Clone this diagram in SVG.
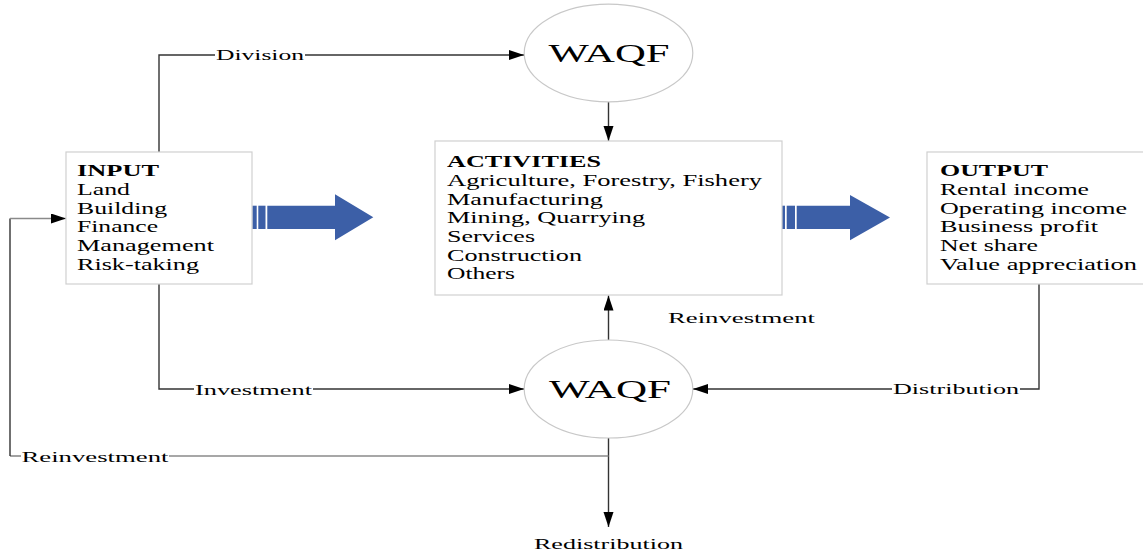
<svg xmlns="http://www.w3.org/2000/svg" width="1143" height="555" viewBox="0 0 1143 555">
  <style>
    .box { fill: #ffffff; stroke: #d0d0d0; stroke-width: 1.2; }
    .oval { fill: #ffffff; stroke: #c8c8c8; stroke-width: 1.2; }
    .txt { font-family: "Liberation Serif", "Times New Roman", serif; font-size: 16.5px; fill: #000000; }
    .hd { font-weight: bold; }
    .lbl { font-family: "Liberation Serif", "Times New Roman", serif; font-size: 15.5px; fill: #000000; }
    .big { font-family: "Liberation Serif", "Times New Roman", serif; font-size: 26px; fill: #000000; }
    .wire { fill: none; stroke: #333333; stroke-width: 1.4; }
    .wire-lt { fill: none; stroke: #8a8a8a; stroke-width: 1.6; }
    .flow { fill: #3c5fa7; }
  </style>
  <defs>
    <marker id="ah" markerUnits="userSpaceOnUse" markerWidth="16" markerHeight="11" refX="15" refY="5" orient="auto">
      <path d="M0,0 L15,5 L0,10 z" fill="#000000"/>
    </marker>
  </defs>

  <rect width="1143" height="555" fill="#ffffff"/>

  <!-- connectors -->
  <g id="connectors">
    <!-- Division: INPUT -> upper WAQF -->
    <path class="wire" d="M159,152 V55 H215"/>
    <path class="wire" d="M305,55 H524" marker-end="url(#ah)"/>
    <!-- upper WAQF -> ACTIVITIES -->
    <path class="wire" d="M608.5,102 V141" marker-end="url(#ah)"/>
    <!-- Investment: INPUT -> lower WAQF -->
    <path class="wire" d="M159,284 V389 H194"/>
    <path class="wire" d="M313,389 H524" marker-end="url(#ah)"/>
    <!-- Distribution: OUTPUT -> lower WAQF -->
    <path class="wire" d="M1039,284 V389 H1020"/>
    <path class="wire" d="M892,389 H693" marker-end="url(#ah)"/>
    <!-- Reinvestment: lower WAQF -> ACTIVITIES -->
    <path class="wire" d="M608.5,340 V295.5" marker-end="url(#ah)"/>
    <!-- Redistribution -->
    <path class="wire" d="M608.5,438 V527" marker-end="url(#ah)"/>
    <!-- Reinvestment loop back to INPUT -->
    <path class="wire-lt" d="M608.5,456 H169"/>
    <path class="wire-lt" d="M21,456 H10"/>
    <path class="wire" d="M10,456 V218.5"/>
    <path class="wire-lt" d="M10,218.5 H66" marker-end="url(#ah)"/>
  </g>

  <!-- connector labels -->
  <g id="labels">
    <text class="lbl" x="216" y="59.5" textLength="88" lengthAdjust="spacingAndGlyphs">Division</text>
    <text class="lbl" x="195" y="394.5" textLength="117" lengthAdjust="spacingAndGlyphs">Investment</text>
    <text class="lbl" x="893" y="393.5" textLength="126" lengthAdjust="spacingAndGlyphs">Distribution</text>
    <text class="lbl" x="21.5" y="461.5" textLength="147" lengthAdjust="spacingAndGlyphs">Reinvestment</text>
    <text class="lbl" x="668" y="322.5" textLength="147" lengthAdjust="spacingAndGlyphs">Reinvestment</text>
    <text class="lbl" x="534" y="549" textLength="149" lengthAdjust="spacingAndGlyphs">Redistribution</text>
  </g>

  <!-- flow arrows -->
  <g id="flow-input-activities">
    <rect class="flow" x="252.3" y="205.7" width="4.4" height="23.3"/>
    <rect class="flow" x="258.3" y="205.7" width="7.2" height="23.3"/>
    <polygon class="flow" points="267.3,205.7 335,205.7 335,194.3 373.3,217.3 335,240.3 335,229 267.3,229"/>
  </g>
  <g id="flow-activities-output">
    <rect class="flow" x="780" y="205.7" width="5" height="23.3"/>
    <rect class="flow" x="786.7" y="205.7" width="8.3" height="23.3"/>
    <polygon class="flow" points="796.7,205.7 850,205.7 850,195 890,217.5 850,240.3 850,229 796.7,229"/>
  </g>

  <!-- INPUT -->
  <g id="input">
    <rect class="box" x="66" y="152" width="186" height="132"/>
    <text class="txt hd" x="77" y="176" textLength="82" lengthAdjust="spacingAndGlyphs">INPUT</text>
    <text class="txt" x="77" y="195" textLength="53" lengthAdjust="spacingAndGlyphs">Land</text>
    <text class="txt" x="77" y="213.7" textLength="90" lengthAdjust="spacingAndGlyphs">Building</text>
    <text class="txt" x="77" y="232.4" textLength="81" lengthAdjust="spacingAndGlyphs">Finance</text>
    <text class="txt" x="77" y="251" textLength="137" lengthAdjust="spacingAndGlyphs">Management</text>
    <text class="txt" x="77" y="269.7" textLength="122" lengthAdjust="spacingAndGlyphs">Risk-taking</text>
  </g>

  <!-- ACTIVITIES -->
  <g id="activities">
    <rect class="box" x="435" y="141" width="347" height="154"/>
    <text class="txt hd" x="447" y="167" textLength="154" lengthAdjust="spacingAndGlyphs">ACTIVITIES</text>
    <text class="txt" x="447" y="186" textLength="315" lengthAdjust="spacingAndGlyphs">Agriculture, Forestry, Fishery</text>
    <text class="txt" x="447" y="204.5" textLength="156" lengthAdjust="spacingAndGlyphs">Manufacturing</text>
    <text class="txt" x="447" y="223" textLength="198" lengthAdjust="spacingAndGlyphs">Mining, Quarrying</text>
    <text class="txt" x="447" y="242" textLength="88" lengthAdjust="spacingAndGlyphs">Services</text>
    <text class="txt" x="447" y="260.7" textLength="135" lengthAdjust="spacingAndGlyphs">Construction</text>
    <text class="txt" x="447" y="279.3" textLength="68" lengthAdjust="spacingAndGlyphs">Others</text>
  </g>

  <!-- OUTPUT -->
  <g id="output">
    <rect class="box" x="927" y="152" width="218" height="132"/>
    <text class="txt hd" x="940" y="176" textLength="108" lengthAdjust="spacingAndGlyphs">OUTPUT</text>
    <text class="txt" x="940" y="195" textLength="149" lengthAdjust="spacingAndGlyphs">Rental income</text>
    <text class="txt" x="940" y="213.7" textLength="187" lengthAdjust="spacingAndGlyphs">Operating income</text>
    <text class="txt" x="940" y="232.4" textLength="158" lengthAdjust="spacingAndGlyphs">Business profit</text>
    <text class="txt" x="940" y="251" textLength="98" lengthAdjust="spacingAndGlyphs">Net share</text>
    <text class="txt" x="940" y="269.7" textLength="197" lengthAdjust="spacingAndGlyphs">Value appreciation</text>
  </g>

  <!-- WAQF (upper) -->
  <g id="waqf-upper">
    <ellipse class="oval" cx="608.5" cy="53" rx="84.3" ry="48.8"/>
    <text class="big" x="548.5" y="62" textLength="121" lengthAdjust="spacingAndGlyphs">WAQF</text>
  </g>

  <!-- WAQF (lower) -->
  <g id="waqf-lower">
    <ellipse class="oval" cx="608.5" cy="389" rx="84.3" ry="49"/>
    <text class="big" x="549" y="397.5" textLength="122" lengthAdjust="spacingAndGlyphs">WAQF</text>
  </g>
</svg>
